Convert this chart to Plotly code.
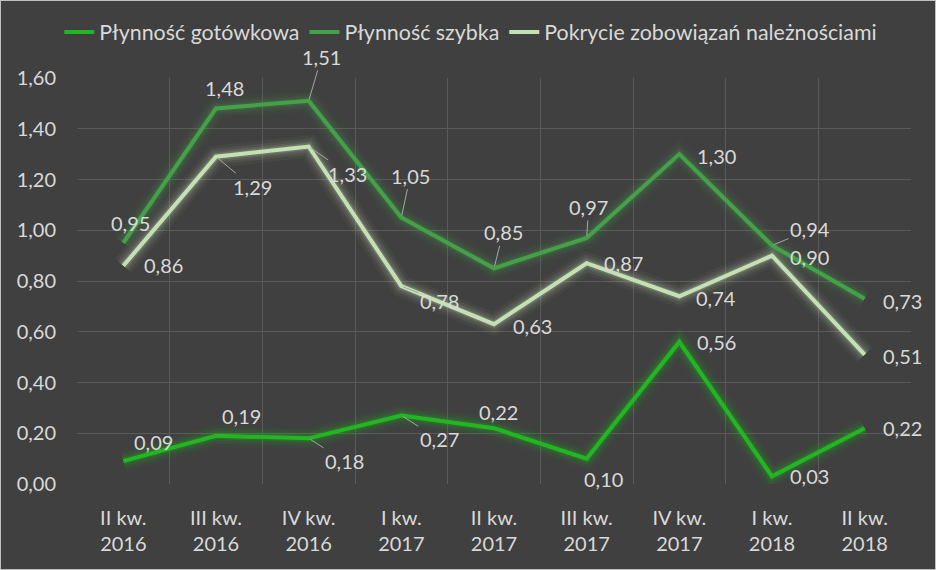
import plotly.graph_objects as go

categories = ["II kw.<br>2016", "III kw.<br>2016", "IV kw.<br>2016", "I kw.<br>2017", "II kw.<br>2017",
              "III kw.<br>2017", "IV kw.<br>2017", "I kw.<br>2018", "II kw.<br>2018"]
plyn_gotowkowa = [0.09, 0.19, 0.18, 0.27, 0.22, 0.10, 0.56, 0.03, 0.22]
plyn_szybka = [0.95, 1.48, 1.51, 1.05, 0.85, 0.97, 1.30, 0.94, 0.73]
pokrycie = [0.86, 1.29, 1.33, 0.78, 0.63, 0.87, 0.74, 0.90, 0.51]
series_names = ["Płynność gotówkowa", "Płynność szybka", "Pokrycie zobowiązań należnościami"]
y_ticks = [0, 0.2, 0.4, 0.6, 0.8, 1.0, 1.2, 1.4, 1.6]

# label offsets in pixels (dx, dy) and leader-line flag
offs_got = [(30, -19, 0), (25, -20, 0), (36, 23, 1), (38, 24, 1), (4, -16, 0),
            (17, 20, 0), (37, 0, 0), (37, 0, 0), (38, 0, 0)]
offs_szy = [(7, -20, 0), (8, -20, 0), (13, -44, 1), (9, -42, 1), (9, -36, 1),
            (2, -31, 1), (37, 2, 0), (38, -16, 1), (38, 2, 0)]
offs_pok = [(40, -1, 0), (36, 30, 1), (39, 27, 1), (38, 15, 1), (38, 2, 0),
            (37, 0, 0), (37, 2, 0), (37, 1, 0), (38, 1, 0)]

colors = ["#22b622", "#46a04a", "#c5e0b4"]
glow_rgb = ["34,182,34", "70,160,74", "197,224,180"]
FONT = "Lato"
TXT = "#d9d9d9"

x = list(range(len(categories)))
fig = go.Figure()
data = [plyn_gotowkowa, plyn_szybka, pokrycie]

# glow layers
for vals, rgb in zip(data, glow_rgb):
    for w, a in [(22, 0.05), (16, 0.07), (11, 0.1), (7, 0.18)]:
        fig.add_trace(go.Scatter(x=x, y=vals, mode="lines", showlegend=False, hoverinfo="skip",
                                 line=dict(color=f"rgba({rgb},{a})", width=w)))
# main lines
for vals, name, c in zip(data, series_names, colors):
    fig.add_trace(go.Scatter(x=x, y=vals, mode="lines", name=name,
                             line=dict(color=c, width=4)))

annotations = []
for vals, offs in zip(data, [offs_got, offs_szy, offs_pok]):
    for i, (v, (dx, dy, lead)) in enumerate(zip(vals, offs)):
        annotations.append(dict(
            x=i, y=v, xref="x", yref="y", text=f"{v:.2f}".replace(".", ","),
            showarrow=True, ax=dx, ay=dy, arrowhead=0, arrowwidth=1, standoff=2,
            arrowcolor="#a6a6a6" if lead else "rgba(0,0,0,0)",
            font=dict(family=FONT, size=20, color=TXT)))

fig.update_layout(
    width=936, height=570,
    margin=dict(l=77, r=25, t=78, b=86),
    paper_bgcolor="#404040", plot_bgcolor="#404040",
    separators=", ",
    font=dict(family=FONT, size=20, color=TXT),
    legend=dict(orientation="h", x=0.503, xanchor="center", y=1 - 32 / 570, yanchor="middle",
                xref="container", yref="container", font=dict(family=FONT, size=21.4, color=TXT),
                bgcolor="rgba(0,0,0,0)", itemwidth=30, tracegroupgap=0),
    annotations=annotations,
    showlegend=True,
)
fig.add_shape(type="rect", xref="x domain", yref="y domain", x0=-77 / 834, x1=1 + 25 / 834,
              y0=-86 / 406, y1=1 + 78 / 406, line=dict(color="#bfbfbf", width=2), layer="below")

fig.update_xaxes(range=[-0.5, 8.5], tickmode="array", tickvals=x, ticktext=categories,
                 showgrid=False, zeroline=False, showline=False, ticks="", ticklabelstandoff=20,
                 tickfont=dict(family=FONT, size=20, color=TXT),
                 minor=dict(tickmode="array", tickvals=[i - 0.5 for i in range(len(categories) + 1)],
                            showgrid=True, gridcolor="#5a5a5a", gridwidth=1, ticks=""))
fig.update_yaxes(range=[0, 1.6], tickmode="array", tickvals=y_ticks, tickformat=".2f",
                 showgrid=True, gridcolor="#5a5a5a", gridwidth=1, zeroline=False, showline=False,
                 ticks="", ticklabelstandoff=20, tickfont=dict(family=FONT, size=20, color=TXT))

fig.write_html("out.html")
